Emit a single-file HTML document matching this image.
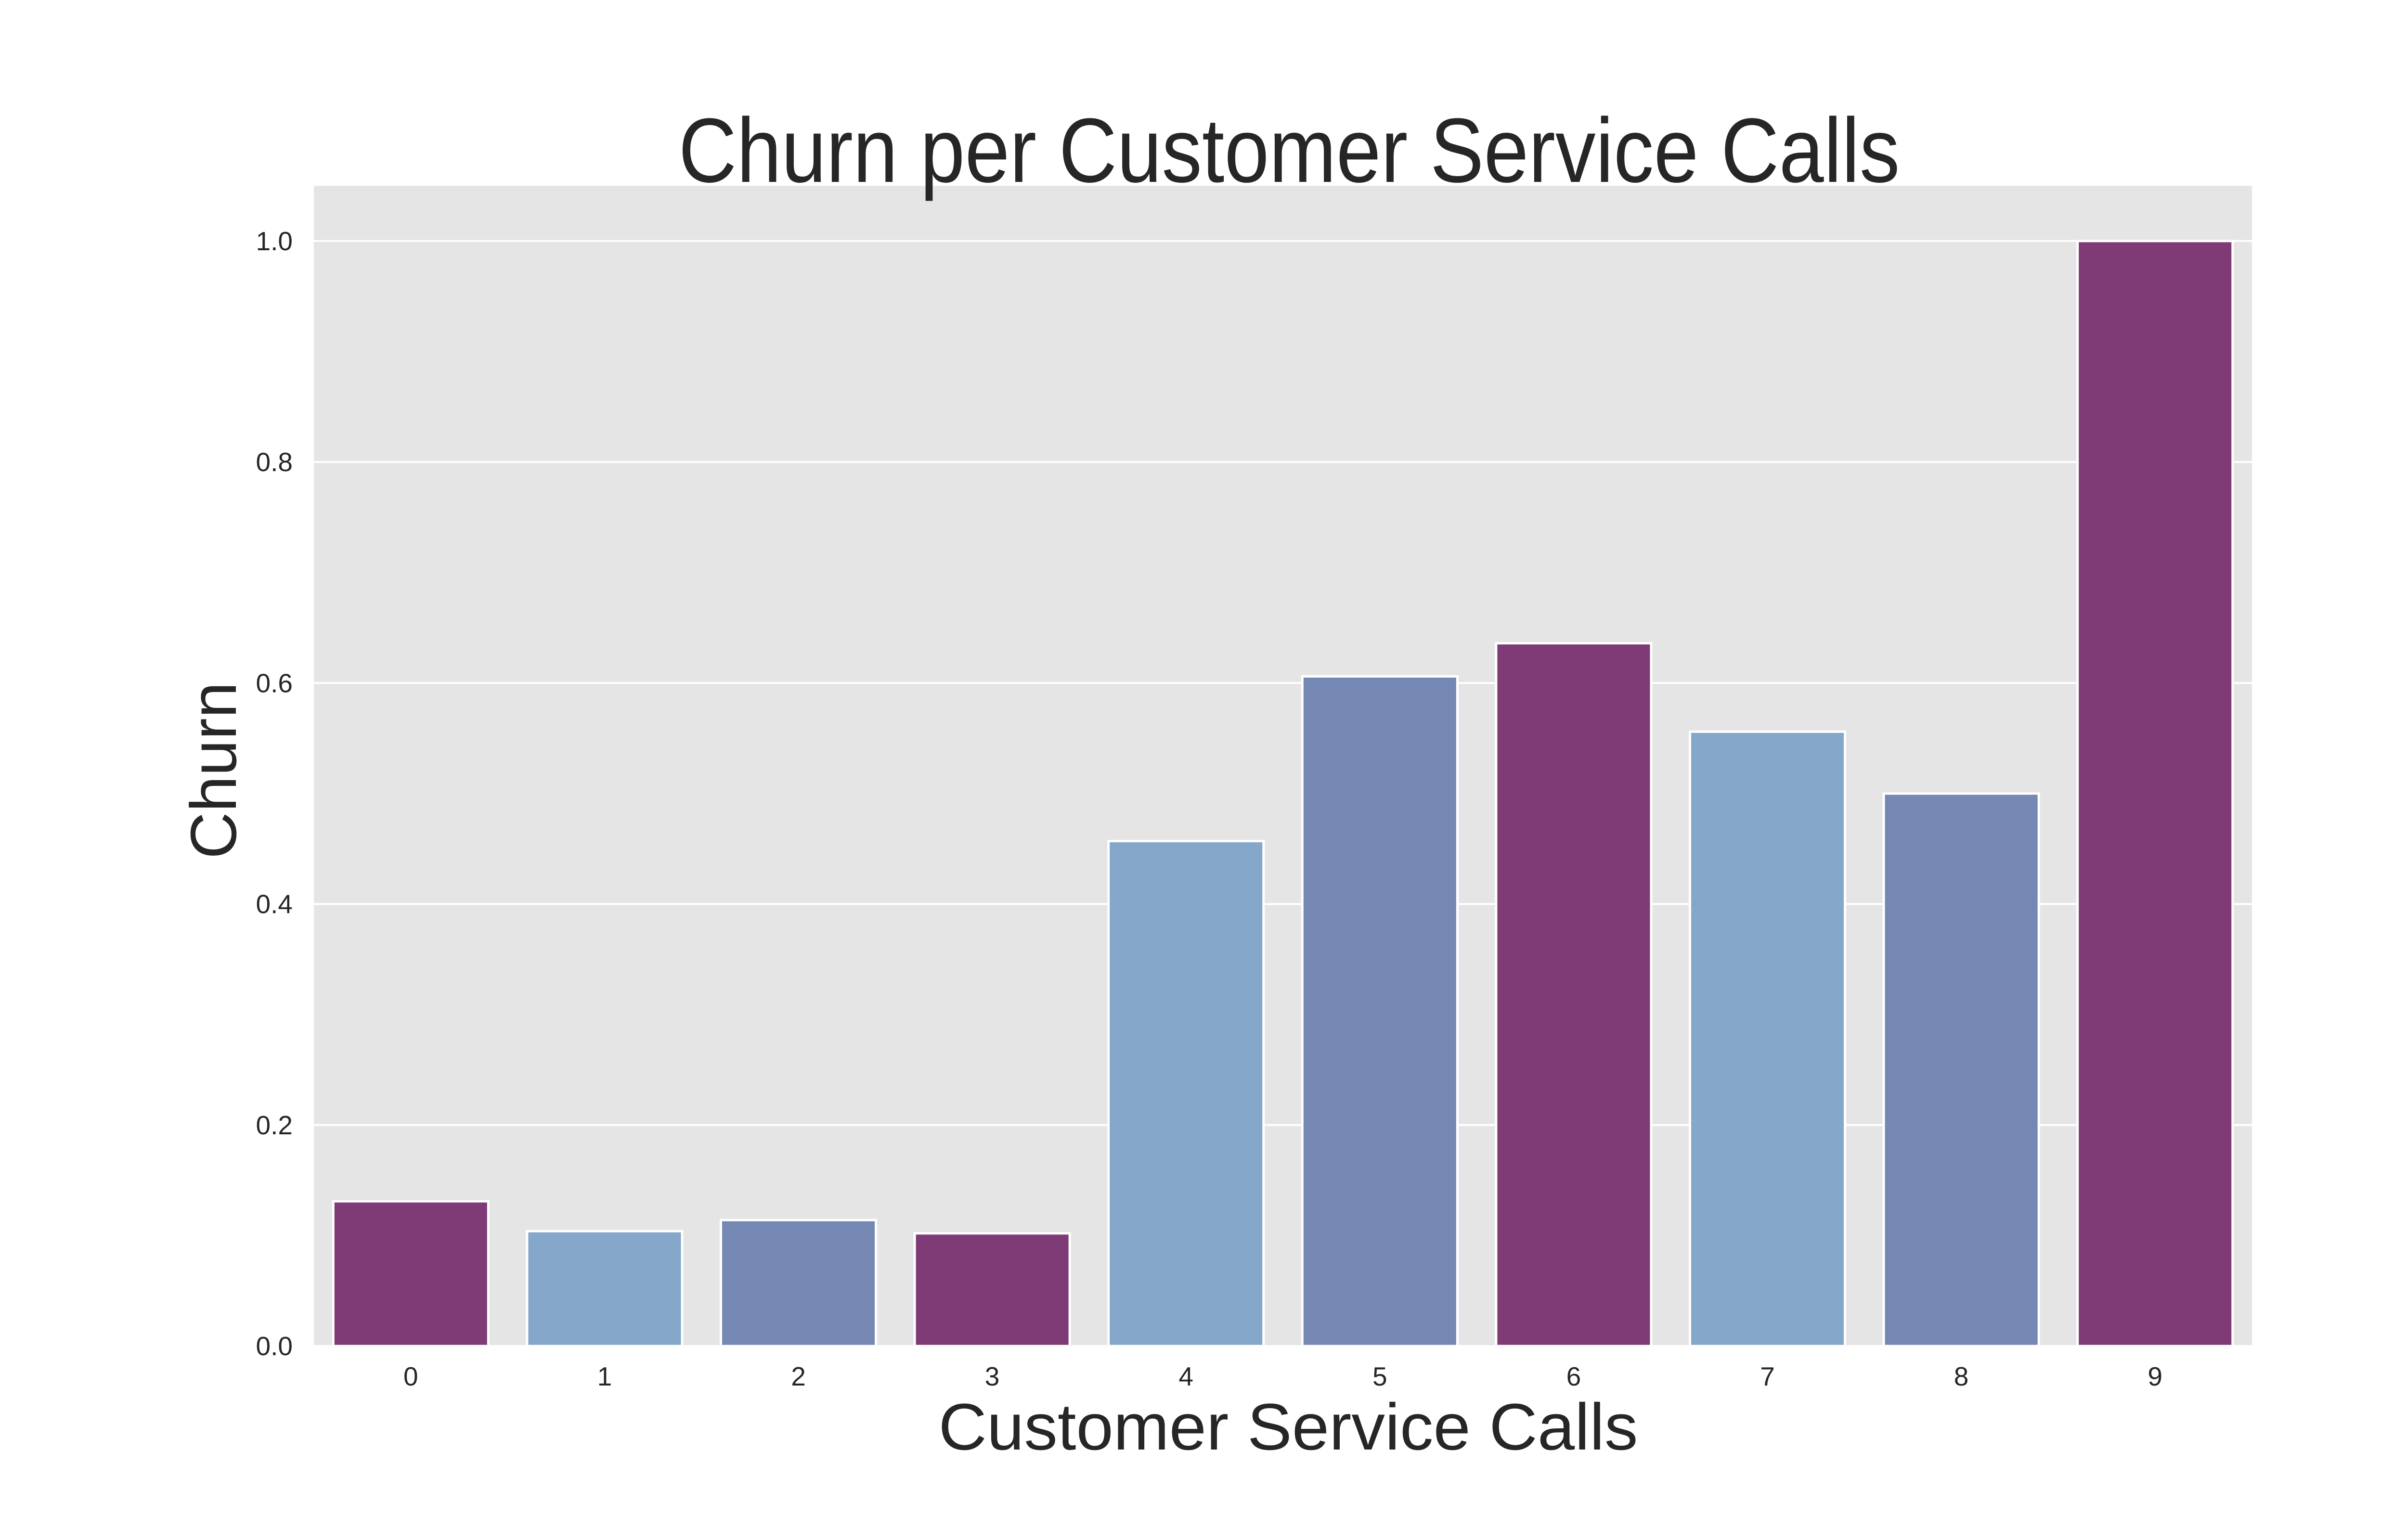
<!DOCTYPE html>
<html><head><meta charset="utf-8"><style>
html,body{margin:0;padding:0;background:#fff;}
svg{display:block;font-family:"Liberation Sans",Arial,sans-serif;}
</style></head><body>
<svg id="chart" width="5200" height="3200" viewBox="0 0 5200 3200" xmlns="http://www.w3.org/2000/svg">
<rect x="0" y="0" width="5200" height="3200" fill="#ffffff"/>
<rect x="652" y="386" width="4026" height="2411" fill="#e5e5e5"/>
<g id="grid"></g>
<g id="bars"></g>
<g id="yticks"></g>
<g id="xticks"></g>
<text x="2678" y="378" font-size="190" fill="#262626" text-anchor="middle" textLength="2537" lengthAdjust="spacingAndGlyphs">Churn per Customer Service Calls</text>
<text x="2676" y="3012" font-size="137" fill="#262626" text-anchor="middle" textLength="1453" lengthAdjust="spacingAndGlyphs">Customer Service Calls</text>
<text transform="translate(490,1601) rotate(-90)" x="0" y="0" font-size="135" fill="#262626" text-anchor="middle">Churn</text>
</svg>
<script>
const categories = ["0","1","2","3","4","5","6","7","8","9"];
const churnValues = [0.131, 0.104, 0.114, 0.102, 0.457, 0.606, 0.636, 0.556, 0.500, 1.0];
const barColors = ["#7f3b75","#85a7c9","#7488b3","#7f3b75","#85a7c9","#7488b3","#7f3b75","#85a7c9","#7488b3","#7f3b75"];
const yTickValues = [0.0, 0.2, 0.4, 0.6, 0.8, 1.0];
const yTickLabels = ["0.0","0.2","0.4","0.6","0.8","1.0"];

const NS = "http://www.w3.org/2000/svg";
const L = 652, R = 4678, T = 386, B = 2797, YMAX = 1.05;
const band = (R - L) / categories.length;
function xScale(i) { return L + band * (i + 0.5); }
function yScale(v) { return B - (v / YMAX) * (B - T); }

const grid = document.getElementById('grid');
const yt = document.getElementById('yticks');
yTickValues.forEach((v, k) => {
  const y = yScale(v);
  const ln = document.createElementNS(NS, 'line');
  
  
  ln.setAttribute('x1', L); ln.setAttribute('x2', R);
  ln.setAttribute('y1', y); ln.setAttribute('y2', y);
  ln.setAttribute('stroke', '#ffffff'); ln.setAttribute('stroke-width', '4');
  grid.appendChild(ln);
  const t = document.createElementNS(NS, 'text');
  
  
  t.setAttribute('x', 608); t.setAttribute('y', y + 19);
  t.setAttribute('font-size', '55'); t.setAttribute('fill', '#262626');
  t.setAttribute('text-anchor', 'end');
  t.textContent = yTickLabels[k];
  yt.appendChild(t);
});

const bars = document.getElementById('bars');
const xt = document.getElementById('xticks');
categories.forEach((c, i) => {
  const w = band * 0.8;
  const x = xScale(i) - w / 2;
  const y = yScale(churnValues[i]);
  const r = document.createElementNS(NS, 'rect');
  
  
  r.setAttribute('x', x); r.setAttribute('y', y);
  r.setAttribute('width', w); r.setAttribute('height', B - y);
  r.setAttribute('fill', barColors[i]);
  r.setAttribute('stroke', '#ffffff'); r.setAttribute('stroke-width', '5');
  bars.appendChild(r);
  const t = document.createElementNS(NS, 'text');
  
  
  t.setAttribute('x', xScale(i)); t.setAttribute('y', 2879);
  t.setAttribute('font-size', '55'); t.setAttribute('fill', '#262626');
  t.setAttribute('text-anchor', 'middle');
  t.textContent = c;
  xt.appendChild(t);
});
</script>
</body></html>
